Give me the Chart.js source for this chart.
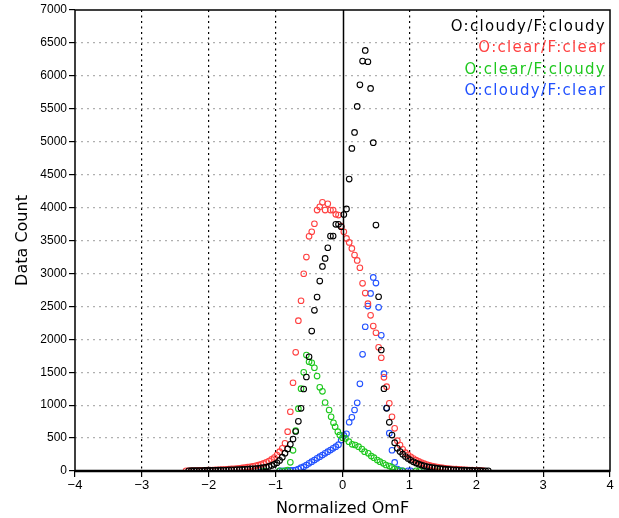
<!DOCTYPE html>
<html>
<head>
<meta charset="utf-8">
<script src="https://cdn.jsdelivr.net/npm/chart.js@4.4.1/dist/chart.umd.min.js"></script>
<style>
  html, body { margin: 0; padding: 0; background: #fff; }
  #wrap { width: 619px; height: 518px; }
</style>
</head>
<body>
<div id="wrap"><canvas id="c" width="619" height="518"></canvas></div>
<script>
// Histogram of normalized O-F, split by observed / forecast cloud state
const seriesNames = ["O:cloudy/F:cloudy", "O:clear/F:clear", "O:clear/F:cloudy", "O:cloudy/F:clear"];
const seriesColors = ["#000000", "#ff4040", "#1ec81e", "#2050ff"];

const xTicks = [-4, -3, -2, -1, 0, 1, 2, 3, 4];
const yTicks = [0, 500, 1000, 1500, 2000, 2500, 3000, 3500, 4000, 4500, 5000, 5500, 6000, 6500, 7000];

const xCloudyCloudy = [-2.30, -2.26, -2.22, -2.18, -2.14, -2.10, -2.06, -2.02, -1.98, -1.94, -1.90, -1.86, -1.82, -1.78, -1.74, -1.70, -1.66, -1.62, -1.58, -1.54, -1.50, -1.46, -1.42, -1.38, -1.34, -1.30, -1.26, -1.22, -1.18, -1.14, -1.10, -1.06, -1.02, -0.98, -0.94, -0.90, -0.86, -0.82, -0.78, -0.74, -0.70, -0.66, -0.62, -0.58, -0.54, -0.50, -0.46, -0.42, -0.38, -0.34, -0.30, -0.26, -0.22, -0.18, -0.14, -0.10, -0.06, -0.02, 0.02, 0.06, 0.10, 0.14, 0.18, 0.22, 0.26, 0.30, 0.34, 0.38, 0.42, 0.46, 0.50, 0.54, 0.58, 0.62, 0.66, 0.70, 0.74, 0.78, 0.82, 0.86, 0.90, 0.94, 0.98, 1.02, 1.06, 1.10, 1.14, 1.18, 1.22, 1.26, 1.30, 1.34, 1.38, 1.42, 1.46, 1.50, 1.54, 1.58, 1.62, 1.66, 1.70, 1.74, 1.78, 1.82, 1.86, 1.90, 1.94, 1.98, 2.02, 2.06, 2.10, 2.14, 2.18];
const yCloudyCloudy = [4, 5, 5, 6, 6, 7, 8, 8, 9, 10, 11, 12, 13, 14, 15, 16, 18, 19, 21, 22, 24, 26, 29, 31, 34, 37, 41, 46, 52, 60, 70, 84, 102, 125, 160, 210, 270, 335, 405, 486, 600, 754, 952, 1245, 1427, 1735, 2125, 2439, 2641, 2884, 3107, 3228, 3390, 3567, 3567, 3745, 3745, 3709, 3895, 3980, 4433, 4898, 5141, 5536, 5864, 6224, 6386, 6214, 5809, 4985, 3734, 2646, 1837, 1250, 952, 739, 545, 430, 345, 295, 255, 220, 190, 163, 140, 120, 104, 90, 78, 68, 60, 52, 46, 40, 35, 31, 27, 24, 21, 19, 17, 15, 13, 12, 10, 9, 8, 7, 6, 5, 4, 3, 2];

const xClearClear = [-2.34, -2.30, -2.26, -2.22, -2.18, -2.14, -2.10, -2.06, -2.02, -1.98, -1.94, -1.90, -1.86, -1.82, -1.78, -1.74, -1.70, -1.66, -1.62, -1.58, -1.54, -1.50, -1.46, -1.42, -1.38, -1.34, -1.30, -1.26, -1.22, -1.18, -1.14, -1.10, -1.06, -1.02, -0.98, -0.94, -0.90, -0.86, -0.82, -0.78, -0.74, -0.70, -0.66, -0.62, -0.58, -0.54, -0.50, -0.46, -0.42, -0.38, -0.34, -0.30, -0.26, -0.22, -0.18, -0.14, -0.10, -0.06, -0.02, 0.02, 0.06, 0.10, 0.14, 0.18, 0.22, 0.26, 0.30, 0.34, 0.38, 0.42, 0.46, 0.50, 0.54, 0.58, 0.62, 0.66, 0.70, 0.74, 0.78, 0.82, 0.86, 0.90, 0.94, 0.98, 1.02, 1.06, 1.10, 1.14, 1.18, 1.22, 1.26, 1.30, 1.34, 1.38, 1.42, 1.46, 1.50, 1.54, 1.58, 1.62, 1.66, 1.70, 1.74, 1.78, 1.82, 1.86, 1.90, 1.94, 1.98, 2.02, 2.06, 2.10];
const yClearClear = [3, 4, 5, 6, 7, 8, 9, 10, 12, 13, 15, 17, 19, 21, 23, 25, 28, 31, 34, 38, 42, 47, 52, 58, 64, 71, 79, 88, 100, 115, 132, 152, 176, 205, 243, 293, 345, 420, 597, 900, 1340, 1802, 2282, 2585, 2995, 3249, 3563, 3633, 3754, 3962, 4012, 4079, 3962, 4058, 3962, 3962, 3897, 3886, 3719, 3633, 3532, 3471, 3380, 3279, 3198, 3086, 2849, 2702, 2540, 2364, 2201, 2099, 1878, 1720, 1422, 1280, 1028, 824, 648, 460, 395, 329, 278, 245, 215, 188, 165, 145, 127, 111, 98, 86, 76, 67, 59, 52, 46, 41, 37, 33, 30, 27, 24, 21, 19, 17, 15, 13, 11, 9, 7, 5];

const xClearCloudy = [-1.18, -0.94, -0.86, -0.82, -0.78, -0.74, -0.70, -0.66, -0.62, -0.58, -0.54, -0.50, -0.46, -0.42, -0.38, -0.34, -0.30, -0.26, -0.20, -0.17, -0.135, -0.11, -0.07, -0.04, 0.00, 0.045, 0.095, 0.145, 0.19, 0.24, 0.29, 0.33, 0.385, 0.43, 0.47, 0.52, 0.56, 0.61, 0.65, 0.70, 0.74, 0.78, 0.83, 0.90, 1.10, 1.15, 1.26, 1.34, 1.42];
const yClearCloudy = [2, 2, 3, 15, 132, 314, 612, 946, 1250, 1498, 1761, 1659, 1644, 1568, 1442, 1271, 1210, 1040, 926, 824, 733, 672, 597, 545, 505, 495, 445, 405, 395, 369, 334, 293, 269, 228, 202, 167, 141, 117, 91, 76, 56, 30, 10, 3, 2, 2, 2, 2, 2];

const xCloudyClear = [-1.20, -0.94, -0.90, -0.86, -0.82, -0.78, -0.74, -0.70, -0.66, -0.62, -0.58, -0.54, -0.50, -0.46, -0.42, -0.38, -0.34, -0.30, -0.26, -0.22, -0.18, -0.14, -0.10, -0.06, -0.02, 0.02, 0.06, 0.10, 0.14, 0.18, 0.22, 0.26, 0.30, 0.34, 0.38, 0.42, 0.46, 0.50, 0.54, 0.58, 0.62, 0.66, 0.70, 0.74, 0.78, 0.82, 0.86, 0.90, 0.98, 1.02, 1.22, 1.26, 1.32];
const yCloudyClear = [2, 2, 3, 4, 6, 8, 10, 15, 30, 50, 65, 91, 117, 141, 167, 193, 217, 243, 269, 293, 319, 345, 369, 400, 470, 540, 565, 740, 815, 926, 1035, 1323, 1771, 2190, 2505, 2697, 2940, 2854, 2485, 2060, 1478, 960, 575, 315, 130, 30, 5, 3, 2, 2, 2, 2, 2];

const seriesX = [xCloudyCloudy, xClearClear, xClearCloudy, xCloudyClear];
const seriesY = [yCloudyCloudy, yClearClear, yClearCloudy, yCloudyClear];

const datasets = seriesNames.map((name, i) => ({
  label: name,
  data: seriesX[i].map((x, k) => ({ x: x, y: seriesY[i][k] })),
  showLine: false,
  pointStyle: 'circle',
  pointRadius: 2.8,
  pointHoverRadius: 2.8,
  pointBorderWidth: 1.1,
  borderColor: seriesColors[i],
  backgroundColor: 'rgba(0,0,0,0)',
  pointBackgroundColor: 'rgba(0,0,0,0)'
}));

// frame, zero line and right-hand legend text
const framePlugin = {
  id: 'frame',
  afterDatasetsDraw(chart) {
    const { ctx, chartArea: a, scales } = chart;
    ctx.save();
    const x0 = Math.round(scales.x.getPixelForValue(0)) + 0.5;
    ctx.strokeStyle = '#000';
    ctx.lineWidth = 1.5;
    ctx.setLineDash([]);
    ctx.beginPath();
    ctx.moveTo(x0, a.top);
    ctx.lineTo(x0, a.bottom);
    ctx.stroke();
    ctx.lineWidth = 1.5;
    ctx.strokeRect(a.left, a.top, a.right - a.left, a.bottom - a.top);
    ctx.lineWidth = 2.5;
    ctx.beginPath();
    ctx.moveTo(a.left, a.bottom);
    ctx.lineTo(a.right, a.bottom);
    ctx.stroke();

    ctx.font = '15px "DejaVu Sans", sans-serif';
    if ('letterSpacing' in ctx) ctx.letterSpacing = '1.3px';
    ctx.textAlign = 'right';
    ctx.textBaseline = 'middle';
    const rows = [27, 48.5, 70, 91];
    seriesNames.forEach((name, i) => {
      ctx.fillStyle = seriesColors[i];
      ctx.fillText(name, a.right - 4, rows[i]);
    });
    ctx.restore();
  }
};

new Chart(document.getElementById('c'), {
  type: 'scatter',
  data: { datasets },
  plugins: [framePlugin],
  options: {
    responsive: false,
    animation: false,
    events: [],
    layout: { padding: { left: 0, right: 9, top: 10, bottom: 0 } },
    plugins: { legend: { display: false }, tooltip: { enabled: false } },
    scales: {
      x: {
        type: 'linear',
        min: -4, max: 4,
        afterBuildTicks(scale) { scale.ticks = xTicks.map(v => ({ value: v })); },
        afterFit(scale) { scale.height = 47; },
        grid: {
          color: ctx => (ctx.tick && (ctx.tick.value === 0 || Math.abs(ctx.tick.value) === 4)) ? 'rgba(0,0,0,0)' : '#000',
          lineWidth: 1.2,
          tickColor: '#000',
          tickLength: 6,
          tickWidth: 1.2
        },
        border: { display: false, dash: [2, 3.5] },
        ticks: {
          color: '#000',
          padding: 1,
          maxRotation: 0,
          font: { family: '"Liberation Sans", Arial, sans-serif', size: 13 },
          callback: v => (v < 0 ? '\u2212' + Math.abs(v) : String(v))
        },
        title: {
          display: true,
          text: 'Normalized OmF',
          color: '#000',
          font: { family: '"DejaVu Sans", sans-serif', size: 16 },
          padding: { top: 3, bottom: 0 }
        }
      },
      y: {
        type: 'linear',
        min: 0, max: 7000,
        afterBuildTicks(scale) { scale.ticks = yTicks.map(v => ({ value: v })); },
        afterFit(scale) { scale.width = 75; },
        grid: {
          color: ctx => (ctx.tick && (ctx.tick.value === 0 || ctx.tick.value === 7000)) ? 'rgba(0,0,0,0)' : '#b0b0b0',
          lineWidth: 1.2,
          tickColor: '#000',
          tickLength: 6,
          tickWidth: 1.2
        },
        border: { display: false, dash: [2, 4] },
        ticks: {
          color: '#000',
          padding: 2,
          font: { family: '"Liberation Sans", Arial, sans-serif', size: 12 },
          callback: v => String(v)
        },
        title: {
          display: true,
          text: 'Data Count',
          color: '#000',
          font: { family: '"DejaVu Sans", sans-serif', size: 16 },
          padding: { top: 13, bottom: 0 }
        }
      }
    }
  }
});
</script>
</body>
</html>
